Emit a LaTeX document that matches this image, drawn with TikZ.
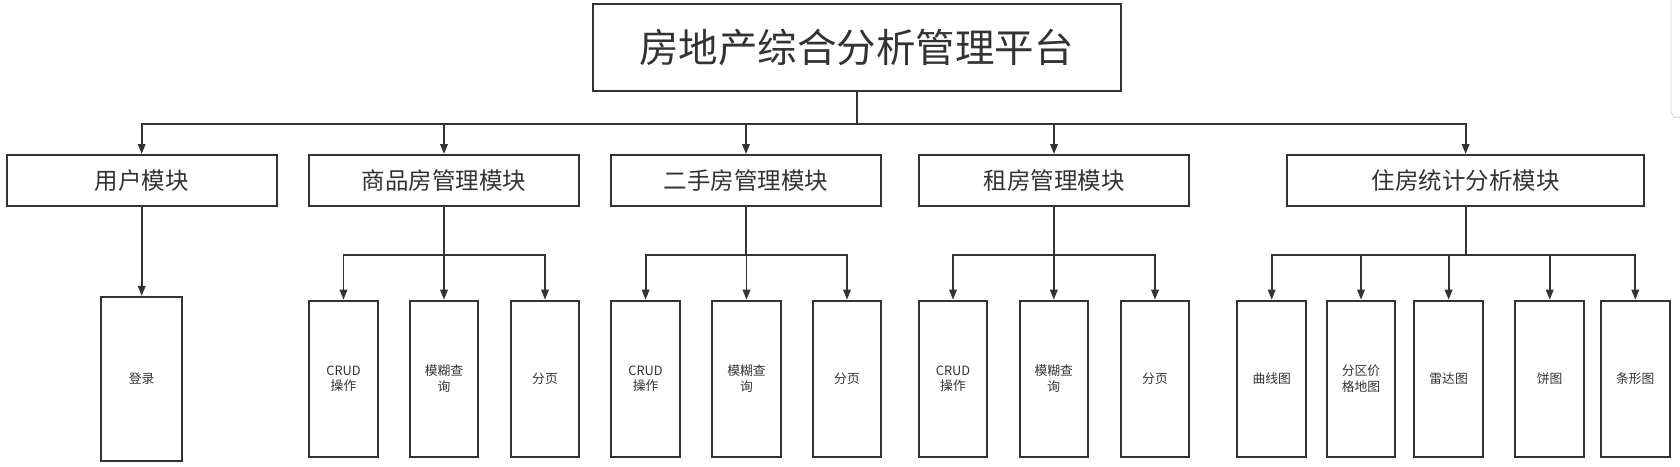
\documentclass[tikz,border=0pt]{standalone}
\usepackage{fontspec}
\setmainfont{Noto Sans CJK SC}
\usetikzlibrary{arrows.meta}
\definecolor{linegray}{HTML}{333333}
\definecolor{scrollgray}{HTML}{D6D6D6}

\begin{document}
\begin{tikzpicture}[
	x=1pt, y=-1pt,
	every node/.style={draw=linegray, line width=2pt, text=linegray, inner sep=0pt},
	root/.style={minimum width=528pt, minimum height=87pt, font=\fontsize{39.5}{47}\selectfont},
	module/.style={minimum width=270pt, minimum height=51pt, font=\fontsize{23.5}{28}\selectfont},
	leaf/.style={minimum width=68.5pt, minimum height=156pt, align=center, font=\fontsize{12.8}{15.7}\selectfont},
	wire/.style={draw=linegray, line width=1.8pt},
	link/.style={wire, -{Triangle[length=10pt,width=7.5pt]}}
	]
	\useasboundingbox (0,0) rectangle (1680,466);
	% scroll bar edge
	\draw[scrollgray, line width=0.8pt] (1671,0) -- (1671,113) to[out=90,in=180] (1675,117.5) -- (1680,117.5);

	% top
	\node[root] (platform) at (856.6,47.8) {房地产综合分析管理平台};

	% modules
	\node[module] (user) at (141.7,180.5) {用户模块};
	\node[module] (newhouse) at (444,180.5) {商品房管理模块};
	\node[module] (oldhouse) at (746,180.5) {二手房管理模块};
	\node[module] (rent) at (1054,180.5) {租房管理模块};
	\node[module, minimum width=357pt] (stats) at (1465.6,180.5) {住房统计分析模块};

	% functions
	\node[leaf, minimum width=81pt, minimum height=164pt] (login) at (141.7,378.9) {登录};
	\node[leaf] (newcrud) at (343.5,378.7) {CRUD\\操作};
	\node[leaf] (newsearch) at (444,378.7) {模糊查\\询};
	\node[leaf] (newpage) at (545,378.7) {分页};
	\node[leaf] (oldcrud) at (645.6,378.7) {CRUD\\操作};
	\node[leaf] (oldsearch) at (746.5,378.7) {模糊查\\询};
	\node[leaf] (oldpage) at (847,378.7) {分页};
	\node[leaf] (rentcrud) at (953,378.7) {CRUD\\操作};
	\node[leaf] (rentsearch) at (1053.8,378.7) {模糊查\\询};
	\node[leaf] (rentpage) at (1155,378.7) {分页};
	\node[leaf] (curve) at (1271.7,378.7) {曲线图};
	\node[leaf] (pricemap) at (1361,378.7) {分区价\\格地图};
	\node[leaf] (radar) at (1448.6,378.7) {雷达图};
	\node[leaf] (pie) at (1549.7,378.7) {饼图};
	\node[leaf] (bar) at (1635.3,378.7) {条形图};

	% connectors
	\coordinate (bus) at (856.6,123.7);
	\draw[wire] (platform.south) -- (bus);
	\draw[link] (bus) -| (user.north);
	\draw[link] (bus) -| (newhouse.north);
	\draw[link] (bus) -| (oldhouse.north);
	\draw[link] (bus) -| (rent.north);
	\draw[link] (bus) -| (stats.north);

	\draw[link] (user.south) -- (login.north);
	\draw[link] (newhouse.south) -- ++(0,48) -| (newcrud.north);
	\draw[link] (newhouse.south) -- ++(0,48) -| (newsearch.north);
	\draw[link] (newhouse.south) -- ++(0,48) -| (newpage.north);
	\draw[link] (oldhouse.south) -- ++(0,48) -| (oldcrud.north);
	\draw[link] (oldhouse.south) -- ++(0,48) -| (oldsearch.north);
	\draw[link] (oldhouse.south) -- ++(0,48) -| (oldpage.north);
	\draw[link] (rent.south) -- ++(0,48) -| (rentcrud.north);
	\draw[link] (rent.south) -- ++(0,48) -| (rentsearch.north);
	\draw[link] (rent.south) -- ++(0,48) -| (rentpage.north);
	\draw[link] (stats.south) -- ++(0,48) -| (curve.north);
	\draw[link] (stats.south) -- ++(0,48) -| (pricemap.north);
	\draw[link] (stats.south) -- ++(0,48) -| (radar.north);
	\draw[link] (stats.south) -- ++(0,48) -| (pie.north);
	\draw[link] (stats.south) -- ++(0,48) -| (bar.north);
\end{tikzpicture}
\end{document}
